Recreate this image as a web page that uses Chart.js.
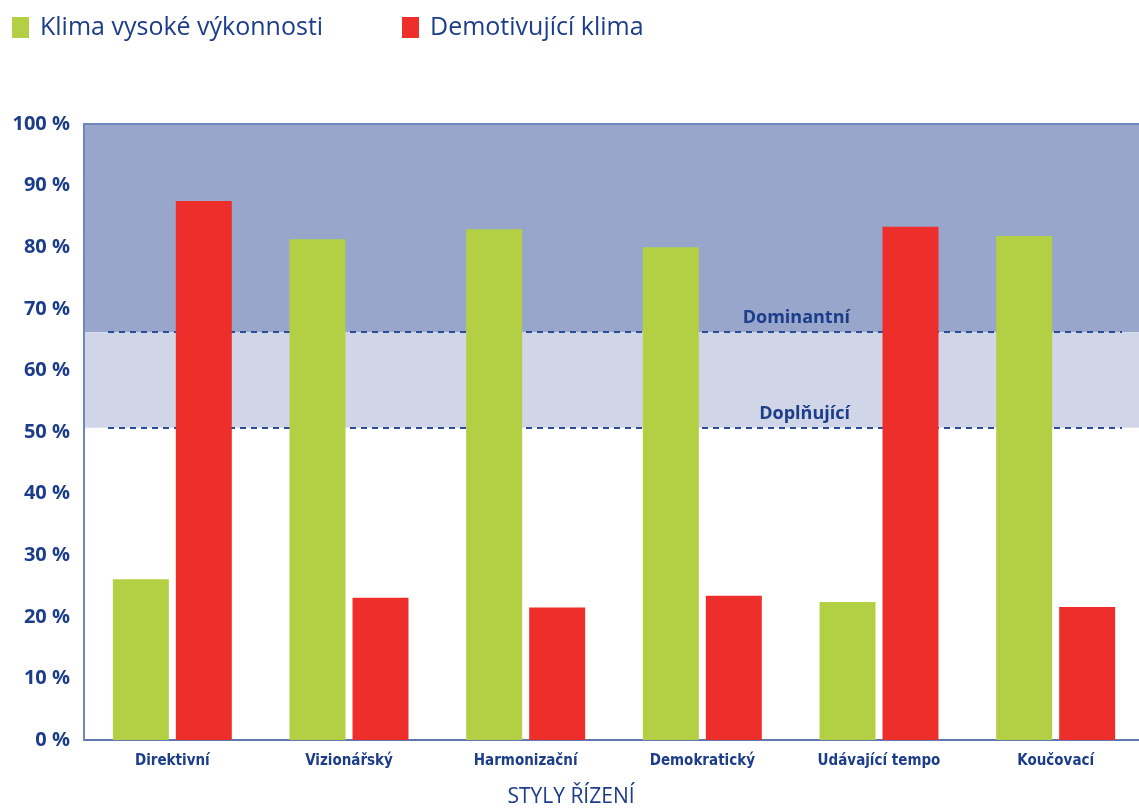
<!DOCTYPE html>
<html>
<head>
<meta charset="utf-8">
<script src="https://cdn.jsdelivr.net/npm/chart.js@4"></script>
<style>
  html, body { margin: 0; padding: 0; background: #fff; overflow: hidden; }
  #wrap { width: 1144px; height: 809px; }
</style>
</head>
<body>
<div id="wrap"><canvas id="chart"></canvas></div>
<script>
// Dati
const categories = ['Direktivní', 'Vizionářský', 'Harmonizační', 'Demokratický', 'Udávající tempo', 'Koučovací'];
const highPerf = [26.1, 81.3, 82.9, 80.0, 22.4, 81.8];
const demotiv = [87.5, 23.1, 21.5, 23.4, 83.3, 21.6];
const seriesNames = ['Klima vysoké výkonnosti', 'Demotivující klima'];
const zoneLevels = [66.2, 50.7];
const zoneNames = ['Dominantní', 'Doplňující'];
const yMin = 0, yMax = 100, yStep = 10;
const xTitle = 'STYLY ŘÍZENÍ';

const navy = '#1c3d8a';
const green = '#b3d044';
const red = '#ee2e2b';

// Sfondo a fasce + bordo superiore
const bandsPlugin = {
  id: 'bands',
  beforeDraw(chart) {
    const { ctx, chartArea: a, scales: { y } } = chart;
    const yTop = y.getPixelForValue(yMax);
    const yDom = y.getPixelForValue(zoneLevels[0]);
    const yDop = y.getPixelForValue(zoneLevels[1]);
    ctx.save();
    ctx.fillStyle = '#97a6ca';
    ctx.fillRect(a.left, yTop, a.right - a.left, yDom - yTop);
    ctx.fillStyle = '#d0d6e8';
    ctx.fillRect(a.left, yDom, a.right - a.left, yDop - yDom);
    ctx.strokeStyle = '#6f86bd';
    ctx.lineWidth = 2;
    ctx.beginPath();
    ctx.moveTo(a.left, yTop);
    ctx.lineTo(a.right, yTop);
    ctx.stroke();
    ctx.restore();
  },
  beforeDatasetsDraw(chart) {
    const { ctx, chartArea: a, scales: { y } } = chart;
    ctx.save();
    ctx.strokeStyle = '#2b4d94';
    ctx.lineWidth = 2;
    ctx.setLineDash([6, 5]);
    zoneLevels.forEach((lvl, i) => {
      const py = Math.round(y.getPixelForValue(lvl));
      ctx.beginPath();
      ctx.moveTo(a.left + 24, py);
      ctx.lineTo(a.right - 22, py);
      ctx.stroke();
      ctx.fillStyle = navy;
      ctx.font = 'bold 18px "Open Sans"';
      ctx.textAlign = 'right';
      ctx.textBaseline = 'alphabetic';
      ctx.fillText(zoneNames[i], 850, py - 9);
    });
    ctx.restore();
  }
};

// Legenda e titolo asse disegnati a mano
const legendPlugin = {
  id: 'customLegend',
  afterDraw(chart) {
    const { ctx } = chart;
    const xs = [12, 402];
    ctx.save();
    ctx.font = '25px "Open Sans"';
    ctx.textBaseline = 'middle';
    ctx.textAlign = 'left';
    chart.data.datasets.forEach((ds, i) => {
      ctx.fillStyle = ds.backgroundColor;
      ctx.fillRect(xs[i], 17, 17, 21);
      ctx.fillStyle = navy;
      ctx.fillText(ds.label, xs[i] + 28, 28);
    });
    ctx.font = '21px "Open Sans"';
    ctx.textAlign = 'center';
    ctx.fillText(xTitle, 571, 797);
    ctx.restore();
  }
};

new Chart(document.getElementById('chart'), {
  type: 'bar',
  data: {
    labels: categories,
    datasets: [
      { label: seriesNames[0], data: highPerf, backgroundColor: green },
      { label: seriesNames[1], data: demotiv, backgroundColor: red }
    ]
  },
  options: {
    responsive: true,
    maintainAspectRatio: false,
    animation: false,
    categoryPercentage: 0.713,
    barPercentage: 0.889,
    layout: { padding: { top: 124, right: 0, bottom: 0, left: 0 } },
    plugins: {
      legend: { display: false },
      tooltip: { enabled: false }
    },
    scales: {
      x: {
        grid: { display: false, drawTicks: false },
        border: { display: true, color: '#5f78b3', width: 2 },
        ticks: {
          color: navy,
          padding: 12,
          maxRotation: 0,
          font: { family: '"Liberation Sans Narrow", "DejaVu Sans Condensed"', size: 15, weight: 'bold' }
        },
        afterFit(scale) { scale.height = 69; }
      },
      y: {
        min: yMin,
        max: yMax,
        grid: { display: false, drawTicks: false },
        border: { display: true, color: '#6f86bd', width: 2 },
        ticks: {
          stepSize: yStep,
          color: navy,
          padding: 14,
          font: { family: '"Open Sans"', size: 20, weight: 'bold' },
          callback: v => v + ' %'
        },
        afterFit(scale) { scale.width = 84; }
      }
    }
  },
  plugins: [bandsPlugin, legendPlugin]
});
</script>
</body>
</html>
